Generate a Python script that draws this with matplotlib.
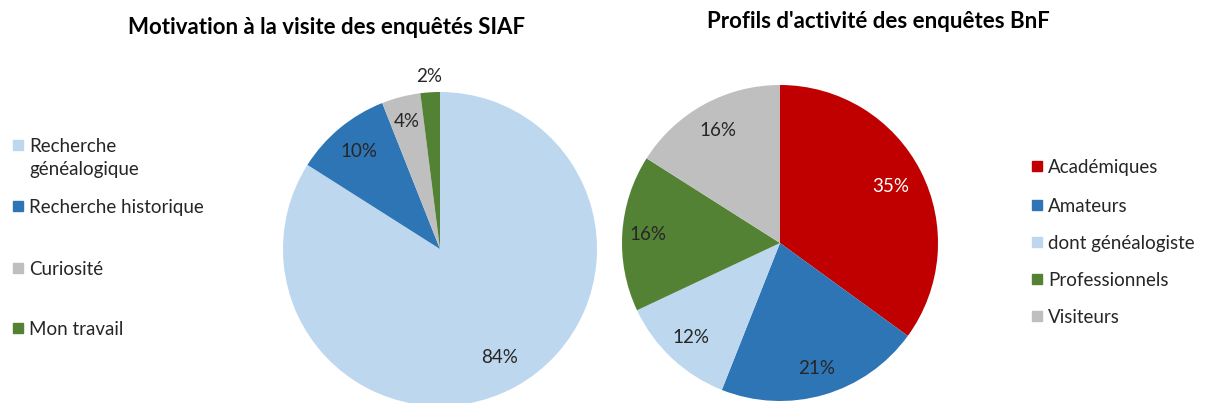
import matplotlib.pyplot as plt
import numpy as np
from matplotlib.patches import Rectangle

plt.rcParams['font.family'] = ['Lato', 'DejaVu Sans']

# ====== données ======
siaf_labels = ["Recherche\ngénéalogique", "Recherche historique", "Curiosité", "Mon travail"]
siaf_values = [84, 10, 4, 2]
siaf_colors = ["#BDD7EE", "#2E75B6", "#BFBFBF", "#548235"]

bnf_labels = ["Académiques", "Amateurs", "dont généalogiste", "Professionnels", "Visiteurs"]
bnf_values = [35, 21, 12, 16, 16]
bnf_colors = ["#C00000", "#2E75B6", "#BDD7EE", "#548235", "#BFBFBF"]

W, H = 1208, 403
fig = plt.figure(figsize=(W / 100, H / 100), dpi=100)


def pie_at(cx, cy, r, values, colors, dists, txtcolors):
    ax = fig.add_axes([(cx - r) / W, 1 - (cy + r) / H, 2 * r / W, 2 * r / H])
    wedges, _ = ax.pie(values, colors=colors, startangle=90, counterclock=False,
                       radius=1, wedgeprops=dict(linewidth=0))
    for w, v, d, tc in zip(wedges, values, dists, txtcolors):
        a = np.deg2rad((w.theta1 + w.theta2) / 2)
        ax.text(d * np.cos(a), d * np.sin(a), f"{v}%", ha="center", va="center",
                fontsize=13.5, color=tc, clip_on=False)
    ax.set_xlim(-1, 1)
    ax.set_ylim(-1, 1)
    ax.set_aspect("equal")
    ax.axis("off")
    return ax


pie_at(440, 249, 157, siaf_values, siaf_colors, [0.79, 0.81, 0.84, 1.1],
       ["#262626"] * 4)
pie_at(780, 243, 158, bnf_values, bnf_colors, [0.79, 0.83, 0.82, 0.84, 0.81],
       ["white"] + ["#262626"] * 4)

fig.text(327 / W, 1 - 28 / H, "Motivation à la visite des enquêtés SIAF",
         ha="center", va="center", fontsize=16, fontweight="bold", color="black")
fig.text(878 / W, 1 - 22 / H, "Profils d'activité des enquêtes BnF",
         ha="center", va="center", fontsize=16, fontweight="bold", color="black")


def legend_at(x, ys, labels, colors):
    for y, lab, col in zip(ys, labels, colors):
        fig.patches.append(Rectangle((x / W, 1 - (y + 5) / H), 10 / W, 10 / H,
                                     transform=fig.transFigure, color=col))
        fig.text((x + 16) / W, 1 - (y - 7) / H, lab, ha="left", va="top",
                 fontsize=13.5, color="#262626", linespacing=1.45)


# la première étiquette a deux lignes : le carré suit la première ligne
legend_at(13, [145, 206, 268, 328], siaf_labels, siaf_colors)
legend_at(1032, [166, 205, 242, 279, 316], bnf_labels, bnf_colors)

fig.savefig("out.png", dpi=100)
